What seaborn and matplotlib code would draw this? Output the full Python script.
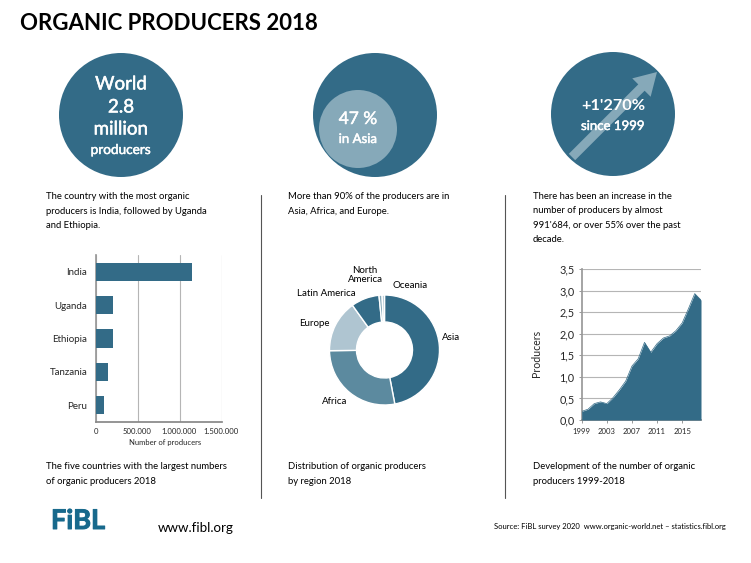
import matplotlib
matplotlib.use("Agg")
import matplotlib.pyplot as plt
import matplotlib.patheffects as pe
from matplotlib.patches import Circle, FancyArrow
import seaborn as sns
import pandas as pd

W, H = 751, 563
TEAL = "#336B87"
LIGHT = "#86A9B9"

# ========= Data =========
countries = ["India", "Uganda", "Ethiopia", "Tanzania", "Peru"]
country_values = [1150000, 210000, 204000, 149000, 100000]
bar_ticks = [0, 500000, 1000000, 1500000]
bar_tick_labels = ["0", "500.000", "1.000.000", "1.500.000"]

regions = ["Asia", "Africa", "Europe", "Latin America", "North\nAmerica", "Oceania"]
region_shares = [47.0, 27.8, 15.3, 8.3, 0.9, 0.7]
region_colors = ["#336B87", "#5C8A9F", "#AFC5D1", "#336B87", "#86A9B9", "#AFC5D1"]

years = list(range(1999, 2019))
producers = [0.20, 0.25, 0.38, 0.42, 0.38, 0.52, 0.70, 0.90, 1.25, 1.42,
             1.80, 1.57, 1.77, 1.90, 1.95, 2.07, 2.25, 2.58, 2.93, 2.78]
year_ticks = [1999, 2003, 2007, 2011, 2015]
prod_ticks = [0, 0.5, 1.0, 1.5, 2.0, 2.5, 3.0, 3.5]
prod_tick_labels = ["0,0", "0,5", "1,0", "1,5", "2,0", "2,5", "3,0", "3,5"]

sns.set_theme(style="white")
plt.rcParams["font.family"] = ["Lato", "DejaVu Sans"]


def px_axes(fig, left, top, right, bottom, **kw):
    return fig.add_axes([left / W, 1 - bottom / H, (right - left) / W, (bottom - top) / H], **kw)


fig = plt.figure(figsize=(W / 100, H / 100), dpi=100, facecolor="white")

# overlay in pixel coordinates for the infographic parts
bg = fig.add_axes([0, 0, 1, 1])
bg.set_xlim(0, W)
bg.set_ylim(H, 0)
bg.axis("off")

bg.text(20, 24, "ORGANIC PRODUCERS 2018", fontsize=16, fontweight="bold", color="black", va="center")

# circles
bg.add_patch(Circle((121, 115), 62, color=TEAL, lw=0))
bg.add_patch(Circle((375, 115), 62, color=TEAL, lw=0))
bg.add_patch(Circle((358, 129), 39, color=LIGHT, lw=0))
bg.add_patch(Circle((613, 114), 62, color=TEAL, lw=0))
bg.add_patch(FancyArrow(572, 157, 85, -85, width=9, head_width=26, head_length=22,
                        length_includes_head=True, color=LIGHT, lw=0))

heavier = [pe.withStroke(linewidth=0.35, foreground="white")]
for y, s, size in [(84, "World", 13.5), (107, "2.8", 13.5), (129, "million", 13.5), (150, "producers", 9.8)]:
    bg.text(121, y, s, color="white", fontsize=size, ha="center", va="center", path_effects=heavier)
bg.text(358, 119, "47 %", color="white", fontsize=12.5, ha="center", va="center", path_effects=heavier)
bg.text(358, 139, "in Asia", color="white", fontsize=9.5, ha="center", va="center", path_effects=heavier)
bg.text(613, 106, "+1'270%", color="white", fontsize=11.8, ha="center", va="center", fontweight="bold")
bg.text(613, 126, "since 1999", color="white", fontsize=9.5, ha="center", va="center", path_effects=heavier)

# text blocks
body = dict(fontsize=6.8, color="black", va="center", linespacing=1.72)
bg.text(46, 211, "The country with the most organic\nproducers is India, followed by Uganda\nand Ethiopia.", **body)
bg.text(288, 204, "More than 90% of the producers are in\nAsia, Africa, and Europe.", **body)
bg.text(533, 218, "There has been an increase in the\nnumber of producers by almost\n991'684, or over 55% over the past\ndecade.", **body)
bg.text(46, 474, "The five countries with the largest numbers\nof organic producers 2018", **body)
bg.text(288, 474, "Distribution of organic producers\nby region 2018", **body)
bg.text(533, 474, "Development of the number of organic\nproducers 1999-2018", **body)

# separators
bg.plot([261, 261], [195, 498], color="#555555", lw=0.8)
bg.plot([505, 505], [195, 498], color="#555555", lw=0.8)

# footer
bg.text(51, 521, "FiBL", fontsize=19.5, fontweight="bold", color="#17698C", va="center",
        path_effects=[pe.withStroke(linewidth=0.7, foreground="#17698C")])
bg.text(158, 528, "www.fibl.org", fontsize=9.6, color="black", va="center")
bg.text(726, 526, "Source: FiBL survey 2020  www.organic-world.net \u2013 statistics.fibl.org",
        fontsize=5.5, color="black", va="center", ha="right")

# bar chart
ax = px_axes(fig, 95.5, 255, 221.5, 422)
ax.patch.set_alpha(0)
df = pd.DataFrame({"country": countries, "value": country_values})
sns.barplot(data=df, y="country", x="value", color=TEAL, saturation=1, width=0.54, ax=ax, zorder=3,
            edgecolor="none", linewidth=0)
ax.set_xlim(0, 1500000)
ax.set_xticks(bar_ticks)
ax.set_xticklabels(bar_tick_labels, fontsize=5.6)
ax.set_ylabel("")
ax.set_xlabel("Number of producers", fontsize=5.5)
ax.xaxis.set_label_coords(0.55, -0.1)
ax.tick_params(axis="y", length=0, labelsize=7, pad=6)
ax.tick_params(axis="x", length=0, pad=4)
ax.xaxis.grid(True, color="#B5B5B5", lw=0.8)
ax.set_axisbelow(True)
sns.despine(ax=ax, top=True, right=True)
ax.spines["left"].set_color("#999999")
ax.spines["bottom"].set_color("#888888")

# donut
ax2 = px_axes(fig, 384.5 - 60, 350 - 60, 384.5 + 60, 350 + 60)
ax2.pie(region_shares, colors=region_colors, startangle=90, counterclock=False, radius=55 / 60,
        wedgeprops=dict(width=27 / 60, edgecolor="white", linewidth=1))
ax2.set_xlim(-1, 1)
ax2.set_ylim(-1, 1)
pie_labels = dict(fontsize=7, color="black", ha="center", va="center")
for name, x, y in zip(regions, [451, 335, 314, 326, 365, 410], [337, 402, 323, 294, 275, 286]):
    bg.text(x, y, name, linespacing=1.0, **pie_labels)

# area chart
ax3 = px_axes(fig, 581.7, 269, 701, 420)
ax3.patch.set_alpha(0)
ax3.fill_between(years, producers, 0, color=TEAL, lw=0, zorder=3)
sns.lineplot(x=years, y=producers, color=TEAL, lw=0.5, ax=ax3, zorder=3)
ax3.set_xlim(1999, 2018)
ax3.set_ylim(0, 3.5)
ax3.set_yticks(prod_ticks)
ax3.set_yticklabels(prod_tick_labels, fontsize=7.8)
ax3.set_xticks(year_ticks)
ax3.set_xticklabels([str(y) for y in year_ticks], fontsize=5.6)
ax3.set_ylabel("Producers", fontsize=7.6)
ax3.yaxis.set_label_coords(-0.336, 0.44)
ax3.tick_params(axis="y", left=True, length=2, width=0.6, color="#888888", pad=3)
ax3.tick_params(axis="x", bottom=True, length=2, width=0.6, color="#888888", pad=3.5)
ax3.yaxis.grid(True, color="#B5B5B5", lw=0.8)
ax3.set_axisbelow(True)
sns.despine(ax=ax3, top=True, right=True, left=False)
ax3.spines["left"].set_color("#999999")
ax3.spines["bottom"].set_color("#888888")

fig.savefig("out.png", dpi=100)
